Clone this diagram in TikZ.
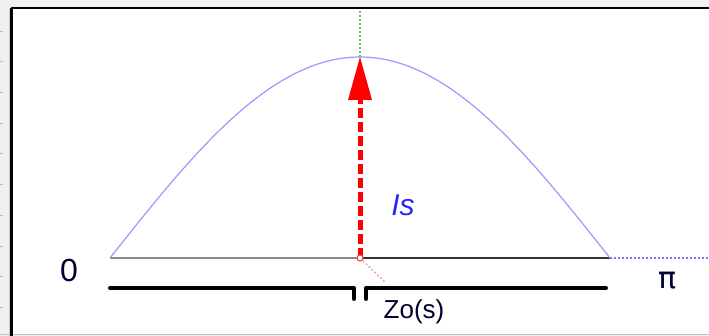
\documentclass[tikz,border=0pt]{standalone}
\usepackage{fontspec}
\setmainfont{Liberation Sans}
\newfontfamily\djv{DejaVu Sans}
\begin{document}
\begin{tikzpicture}[x=1pt,y=-1pt,
  lbl/.style={inner sep=0pt,text=black!80!blue},
  curve/.style={draw=blue!40,line width=1.2pt},
  brack/.style={line width=4pt,line cap=round,line join=round}]
\useasboundingbox (0,0) rectangle (709,336);
\fill[black!6] (0,0) rectangle (709,336);
\fill[white] (12,9) rectangle (709,334);
\draw[black!25,line width=0.8pt] (0,334.5) -- (709,334.5);
\draw[black!20,line width=0.8pt] (9,9) -- (9,336);
\foreach \y in {31,61,92,123,153,184,215,246,276,307}
  \draw[black!25,line width=0.8pt] (0,\y) -- (3,\y);
\draw[black,line width=2.5pt] (11,8) -- (709,8);
\draw[black,line width=2.5pt] (11.5,8) -- (11.5,336);
% coordinates
\coordinate (O) at (110,258);
\coordinate (M) at (360,258);
\coordinate (P) at (610,258);
\coordinate (T) at (360,57);
\coordinate (Top) at (360,10);
\coordinate (E) at (709,258);
\coordinate (Q) at (385,282);
% green dotted
\draw[green!50!black!55,line width=1.2pt,dash pattern=on 2pt off 2pt] (T) -- (Top);
% baseline
\draw[black!45,line width=1.5pt] (O) -- (M);
\draw[black!80,line width=1.5pt] (M) -- (P);
\draw[blue!55,line width=1.2pt,dash pattern=on 2pt off 2pt] (P) -- (E);
% sine
\draw[curve] plot[domain=0:180,samples=90,smooth] ({110+2.7778*\x},{258-201*sin(\x)});
% pink dotted
\draw[magenta!40,line width=1.4pt,dash pattern=on 2pt off 2pt] (M) -- (Q);
% red arrow
\draw[red,line width=5pt,dash pattern=on 10pt off 4pt] (M) -- (360,100);
\fill[red] (T) -- (372,100) -- (348,100) -- cycle;
\draw[red!80,line width=1pt,fill=white] (M) circle (3pt);
% brackets
\draw[brack] (110,288) -- (354,288) -- (354,299);
\draw[brack] (366,299) -- (366,288) -- (606,288);
% labels
\node[lbl,font=\fontsize{32}{32}\selectfont] (zero) at (69,270) {0};
\node[lbl,font=\djv\fontsize{30}{30}\selectfont] (pi) at (668,281) {π};
\node[lbl,font=\fontsize{26}{26}\selectfont] (zo) at (414,312) {Zo(s)};
\node[inner sep=0pt,text=blue!85!white,font=\fontsize{30}{30}\itshape] (is) at (403,205) {Is};
\end{tikzpicture}
\end{document}
